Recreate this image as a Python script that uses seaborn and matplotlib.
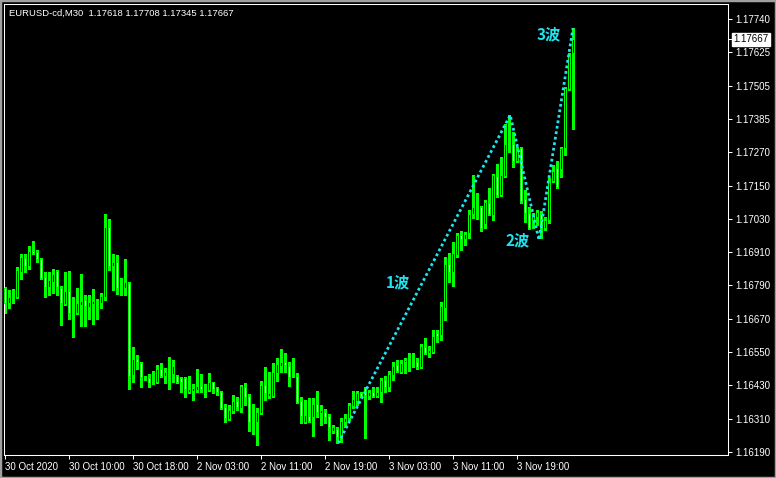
import numpy as np
import pandas as pd
import seaborn as sns
import matplotlib.pyplot as plt
from matplotlib.patches import Rectangle

# EURUSD M30 candles (oldest first)
symbol = "EURUSD-cd,M30"

opens = [
    1.16777, 1.16723, 1.16748, 1.16745, 1.16834, 1.16884, 1.16856, 1.16909, 1.16906, 1.16881,
    1.16816, 1.16781, 1.16798, 1.16838, 1.16777, 1.16720, 1.16766, 1.16687, 1.16687, 1.16716,
    1.16734, 1.16709, 1.16720, 1.16720, 1.16723, 1.16745, 1.16995, 1.16856, 1.16870, 1.16777,
    1.16777, 1.16795, 1.16466, 1.16523, 1.16508, 1.16455, 1.16455, 1.16437, 1.16440, 1.16487,
    1.16462, 1.16476, 1.16469, 1.16462, 1.16455, 1.16455, 1.16405, 1.16408, 1.16412, 1.16426,
    1.16415, 1.16412, 1.16440, 1.16419, 1.16405, 1.16351, 1.16308, 1.16337, 1.16372, 1.16347,
    1.16423, 1.16390, 1.16301, 1.16297, 1.16329, 1.16430, 1.16390, 1.16390, 1.16473, 1.16498,
    1.16512, 1.16498, 1.16462, 1.16462, 1.16372, 1.16297, 1.16319, 1.16315, 1.16362, 1.16329,
    1.16333, 1.16319, 1.16265, 1.16272, 1.16244, 1.16297, 1.16312, 1.16355, 1.16372, 1.16401,
    1.16419, 1.16390, 1.16405, 1.16390, 1.16405, 1.16448, 1.16423, 1.16466, 1.16501, 1.16476,
    1.16512, 1.16516, 1.16516, 1.16512, 1.16494, 1.16566, 1.16544, 1.16548, 1.16616, 1.16609,
    1.16705, 1.16863, 1.16834, 1.16895, 1.16967, 1.16952, 1.16974, 1.17042, 1.17071, 1.17067,
    1.17006, 1.17081, 1.17038, 1.17178, 1.17110, 1.17178, 1.17292, 1.17292, 1.17232, 1.17278,
    1.17096, 1.17045, 1.17020, 1.17031, 1.17042, 1.16992, 1.17020, 1.17160, 1.17207, 1.17203,
    1.17278, 1.17489, 1.17618,
]
highs = [
    1.16781, 1.16770, 1.16773, 1.16852, 1.16899, 1.16899, 1.16927, 1.16945, 1.16913, 1.16884,
    1.16834, 1.16834, 1.16845, 1.16841, 1.16784, 1.16834, 1.16838, 1.16745, 1.16777, 1.16827,
    1.16752, 1.16752, 1.16773, 1.16738, 1.16759, 1.17042, 1.17024, 1.16899, 1.16895, 1.16813,
    1.16881, 1.16798, 1.16566, 1.16537, 1.16512, 1.16462, 1.16469, 1.16480, 1.16501, 1.16508,
    1.16491, 1.16530, 1.16519, 1.16465, 1.16458, 1.16458, 1.16462, 1.16433, 1.16487, 1.16469,
    1.16433, 1.16473, 1.16442, 1.16423, 1.16407, 1.16362, 1.16358, 1.16394, 1.16387, 1.16430,
    1.16437, 1.16397, 1.16362, 1.16347, 1.16444, 1.16494, 1.16476, 1.16508, 1.16526, 1.16559,
    1.16544, 1.16512, 1.16526, 1.16473, 1.16387, 1.16376, 1.16383, 1.16383, 1.16408, 1.16358,
    1.16344, 1.16326, 1.16287, 1.16279, 1.16312, 1.16326, 1.16365, 1.16408, 1.16408, 1.16405,
    1.16423, 1.16412, 1.16423, 1.16423, 1.16455, 1.16462, 1.16480, 1.16512, 1.16519, 1.16519,
    1.16526, 1.16544, 1.16544, 1.16526, 1.16576, 1.16598, 1.16569, 1.16627, 1.16627, 1.16727,
    1.16888, 1.16902, 1.16942, 1.16974, 1.16981, 1.16977, 1.17056, 1.17182, 1.17117, 1.17071,
    1.17092, 1.17135, 1.17185, 1.17221, 1.17246, 1.17364, 1.17396, 1.17335, 1.17282, 1.17282,
    1.17128, 1.17067, 1.17045, 1.17056, 1.17053, 1.17031, 1.17171, 1.17217, 1.17232, 1.17282,
    1.17497, 1.17618, 1.17708,
]
lows = [
    1.16687, 1.16705, 1.16723, 1.16741, 1.16809, 1.16834, 1.16845, 1.16899, 1.16870, 1.16809,
    1.16745, 1.16752, 1.16759, 1.16752, 1.16645, 1.16716, 1.16666, 1.16602, 1.16684, 1.16641,
    1.16641, 1.16666, 1.16648, 1.16666, 1.16705, 1.16734, 1.16841, 1.16770, 1.16755, 1.16752,
    1.16752, 1.16415, 1.16440, 1.16487, 1.16423, 1.16448, 1.16423, 1.16433, 1.16437, 1.16458,
    1.16437, 1.16415, 1.16440, 1.16438, 1.16405, 1.16387, 1.16401, 1.16376, 1.16405, 1.16405,
    1.16387, 1.16408, 1.16401, 1.16394, 1.16345, 1.16297, 1.16304, 1.16329, 1.16340, 1.16333,
    1.16358, 1.16265, 1.16254, 1.16215, 1.16326, 1.16376, 1.16383, 1.16387, 1.16444, 1.16476,
    1.16476, 1.16426, 1.16458, 1.16365, 1.16294, 1.16294, 1.16297, 1.16247, 1.16315, 1.16287,
    1.16294, 1.16233, 1.16258, 1.16222, 1.16226, 1.16279, 1.16304, 1.16347, 1.16358, 1.16387,
    1.16240, 1.16380, 1.16387, 1.16387, 1.16369, 1.16405, 1.16408, 1.16448, 1.16476, 1.16473,
    1.16473, 1.16480, 1.16494, 1.16487, 1.16491, 1.16541, 1.16530, 1.16544, 1.16584, 1.16591,
    1.16662, 1.16798, 1.16784, 1.16888, 1.16913, 1.16931, 1.16956, 1.17028, 1.17024, 1.16981,
    1.16992, 1.17038, 1.17020, 1.17103, 1.17106, 1.17174, 1.17264, 1.17210, 1.17228, 1.17081,
    1.17013, 1.16988, 1.16992, 1.17003, 1.16956, 1.16985, 1.17010, 1.17156, 1.17135, 1.17174,
    1.17253, 1.17486, 1.17345,
]
closes = [
    1.16723, 1.16745, 1.16745, 1.16841, 1.16888, 1.16856, 1.16909, 1.16902, 1.16881, 1.16813,
    1.16781, 1.16806, 1.16827, 1.16781, 1.16723, 1.16766, 1.16687, 1.16687, 1.16723, 1.16730,
    1.16713, 1.16727, 1.16730, 1.16722, 1.16748, 1.16995, 1.16856, 1.16870, 1.16777, 1.16779,
    1.16798, 1.16462, 1.16523, 1.16512, 1.16458, 1.16455, 1.16437, 1.16435, 1.16487, 1.16462,
    1.16476, 1.16476, 1.16498, 1.16440, 1.16440, 1.16415, 1.16415, 1.16419, 1.16426, 1.16415,
    1.16413, 1.16440, 1.16415, 1.16405, 1.16347, 1.16312, 1.16340, 1.16372, 1.16351, 1.16426,
    1.16387, 1.16297, 1.16301, 1.16333, 1.16430, 1.16401, 1.16401, 1.16476, 1.16505, 1.16512,
    1.16501, 1.16458, 1.16462, 1.16369, 1.16319, 1.16322, 1.16301, 1.16362, 1.16333, 1.16340,
    1.16315, 1.16279, 1.16279, 1.16244, 1.16301, 1.16312, 1.16358, 1.16380, 1.16401, 1.16390,
    1.16394, 1.16405, 1.16390, 1.16405, 1.16448, 1.16423, 1.16469, 1.16498, 1.16480, 1.16508,
    1.16519, 1.16516, 1.16512, 1.16494, 1.16569, 1.16544, 1.16555, 1.16605, 1.16605, 1.16713,
    1.16863, 1.16834, 1.16902, 1.16967, 1.16952, 1.16970, 1.17042, 1.17067, 1.17067, 1.16992,
    1.17085, 1.17042, 1.17182, 1.17110, 1.17182, 1.17292, 1.17290, 1.17232, 1.17275, 1.17088,
    1.17045, 1.16992, 1.17038, 1.17049, 1.16992, 1.17020, 1.17164, 1.17196, 1.17139, 1.17278,
    1.17493, 1.17615, 1.17667,
]

# axis labels as shown by the terminal
time_labels = ["30 Oct 2020", "30 Oct 10:00", "30 Oct 18:00", "2 Nov 03:00", "2 Nov 11:00",
               "2 Nov 19:00", "3 Nov 03:00", "3 Nov 11:00", "3 Nov 19:00"]
price_labels = ["1.16190", "1.16310", "1.16430", "1.16550", "1.16670", "1.16790", "1.16910",
                "1.17030", "1.17150", "1.17270", "1.17385", "1.17505", "1.17625", "1.17740"]

# hand-drawn wave line (bar position, price) and its labels
wave_bar = [83.3, 126.3, 133.5, 142.0]
wave_price = [1.16222, 1.17396, 1.16949, 1.17708]
wave_names = ["1波", "2波", "3波"]

df = pd.DataFrame({"open": opens, "high": highs, "low": lows, "close": closes})
df["bar"] = np.arange(len(df))
df["bull"] = df["close"] >= df["open"]

LIME = "#00ff00"
CYAN = "#1ee4f0"

sns.set_style("dark", {"axes.facecolor": "black", "figure.facecolor": "black",
                       "axes.edgecolor": "white", "text.color": "white",
                       "xtick.color": "white", "ytick.color": "white"})
plt.rcParams["font.family"] = ["Liberation Sans", "DejaVu Sans"]

fig = plt.figure(figsize=(7.76, 4.78), dpi=100)
ax = fig.add_axes([4 / 776, 23 / 478, 724 / 776, 451 / 478])
ax.set_facecolor("black")

# wicks
ax.vlines(df["bar"], df["low"], df["high"], color=LIME, linewidth=0.75,
          antialiased=False, zorder=2)

# bodies: black for up candles, white for down candles
body_lo = df[["open", "close"]].min(axis=1)
body_h = (df["open"] - df["close"]).abs()
ax.bar(df["bar"], body_h, bottom=body_lo, width=0.62,
       color=np.where(df["bull"], "black", "white"), edgecolor=LIME,
       linewidth=0.7, antialiased=False, zorder=3)

# wave line
sns.lineplot(x=wave_bar, y=wave_price, ax=ax, color=CYAN, linewidth=2.0,
             linestyle=(0, (1, 1)), sort=False, zorder=4)

cjk = ["Noto Sans CJK JP", "DejaVu Sans"]
name_pos = [(98.3, 1.16798), (128.1, 1.16949), (136.0, 1.17686)]
for name, (bx, by) in zip(wave_names, name_pos):
    ax.text(bx, by, name, color=CYAN, fontsize=11, fontweight="bold",
            family=cjk, ha="center", va="center", zorder=5)

ax.set_xlim(-0.25, 180.75)
ax.set_ylim(1.16179, 1.17794)

ax.set_xticks(np.arange(len(time_labels)) * 16)
ax.set_xticklabels(time_labels)
for lbl in ax.get_xticklabels():
    lbl.set_horizontalalignment("left")
ax.set_yticks(np.linspace(1.16190, 1.17740, len(price_labels)))
ax.set_yticklabels(price_labels)
ax.set_yticks([closes[-1]], minor=True)

ax.tick_params(axis="x", bottom=True, direction="out", length=3, width=0.75,
               colors="white", labelsize=7, pad=2)
ax.tick_params(axis="y", which="both", left=False, right=True, labelleft=False,
               labelright=True, direction="out", length=3, width=0.75,
               colors="white", labelsize=7, pad=2)
for side in ["left", "right", "top", "bottom"]:
    ax.spines[side].set_color("white")
    ax.spines[side].set_linewidth(0.75)
ax.grid(False)
ax.set_xlabel("")
ax.set_ylabel("")

# current bid box
ax.annotate(f"{closes[-1]:.5f}", xy=(1, closes[-1]), xycoords=("axes fraction", "data"),
            xytext=(5, 0), textcoords="offset pixels", ha="left", va="center",
            fontsize=7, color="black",
            bbox=dict(boxstyle="square,pad=0.15", fc="white", ec="white"))

fig.text(9 / 776, 1 - 13 / 478,
         f"{symbol}  {opens[-1]:.5f} {highs[-1]:.5f} {lows[-1]:.5f} {closes[-1]:.5f}",
         color="white", fontsize=6.8, ha="left", va="center")

# window border
fig.add_artist(Rectangle((0, 0), 1, 1, transform=fig.transFigure, fill=False,
                         edgecolor="#a0a0a0", linewidth=2.5))

fig.savefig("out.png", dpi=100, facecolor="black")
